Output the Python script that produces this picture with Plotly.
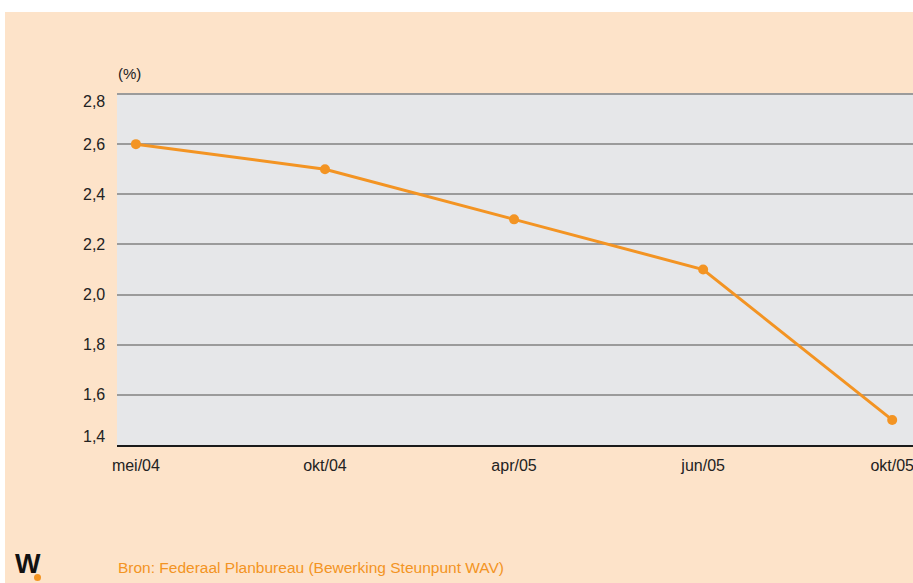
import plotly.graph_objects as go

categories = ["mei/04", "okt/04", "apr/05", "jun/05", "okt/05"]
values = [2.6, 2.5, 2.3, 2.1, 1.5]
y_ticks = [1.4, 1.6, 1.8, 2.0, 2.2, 2.4, 2.6, 2.8]
source_text = "Bron: Federaal Planbureau (Bewerking Steunpunt WAV)"
unit_label = "(%)"

ORANGE = "#F39423"
PEACH = "#FDE3C9"
FONT = "Liberation Sans, Arial"

W, H = 913, 583
L, R, T, B = 117, 0, 94, 138
PW, PH = W - L - R, H - T - B


def px(x):
    return (x - L) / PW


def py(y):
    return 1 - (y - T) / PH


fig = go.Figure()
fig.add_trace(go.Scatter(
    x=list(range(len(categories))), y=values, mode="lines+markers",
    line=dict(color=ORANGE, width=3),
    marker=dict(color=ORANGE, size=10),
    hoverinfo="skip", showlegend=False, cliponaxis=False,
))

annotations = [
    dict(text=unit_label, xref="paper", yref="paper", x=px(116), y=py(73),
         xanchor="left", yanchor="middle", showarrow=False,
         font=dict(family=FONT, size=15, color="#222222")),
    dict(text=source_text, xref="paper", yref="paper", x=px(116), y=py(567),
         xanchor="left", yanchor="middle", showarrow=False,
         font=dict(family=FONT, size=15.5, color=ORANGE)),
    dict(text="<b>W</b>", xref="paper", yref="paper", x=px(13), y=py(564),
         xanchor="left", yanchor="middle", showarrow=False,
         font=dict(family=FONT, size=27, color="#111111")),
]
for v in y_ticks:
    shift = 0
    if v == y_ticks[-1]:
        shift = -7
    elif v == y_ticks[0]:
        shift = 9
    annotations.append(dict(
        text=f"{v:.1f}".replace(".", ","), xref="paper", yref="y",
        x=px(107), y=v, yshift=shift, xanchor="right", yanchor="middle",
        showarrow=False, font=dict(family=FONT, size=16, color="#222222")))

fig.update_layout(
    width=W, height=H,
    margin=dict(l=L, r=R, t=T, b=B),
    paper_bgcolor=PEACH, plot_bgcolor="#E6E7E9",
    separators=",.",
    font=dict(family=FONT, size=16, color="#222222"),
    xaxis=dict(
        range=[-0.1, 4.11], tickmode="array",
        tickvals=list(range(len(categories))), ticktext=categories,
        showgrid=False, zeroline=False, showline=True,
        linecolor="#1a1a1a", linewidth=1.5, ticks="",
        ticklabelstandoff=5, ticklabeloverflow="allow",
    ),
    yaxis=dict(
        range=[1.4, 2.8], tickvals=y_ticks, tickformat=".1f",
        showticklabels=False,
        showgrid=True, gridcolor="#9B9B9B", gridwidth=1.5,
        zeroline=False, showline=False, ticks="",
    ),
    shapes=[
        dict(type="rect", xref="paper", yref="paper", x0=px(0), x1=px(W),
             y0=py(12), y1=py(-2), fillcolor="white", line=dict(width=0)),
        dict(type="rect", xref="paper", yref="paper", x0=px(0), x1=px(5),
             y0=py(H + 2), y1=py(-2), fillcolor="white", line=dict(width=0)),
        dict(type="line", xref="paper", yref="paper", x0=0, x1=1, y0=1, y1=1,
             line=dict(color="#9B9B9B", width=2)),
        dict(type="circle", xref="paper", yref="paper",
             x0=px(34), x1=px(41), y0=py(581), y1=py(574),
             fillcolor=ORANGE, line=dict(width=0)),
    ],
    annotations=annotations,
)

fig.write_html(
    "out.html",
    config={"displayModeBar": False},
    post_script="document.body.style.margin='0';document.body.style.overflow='hidden';",
)
